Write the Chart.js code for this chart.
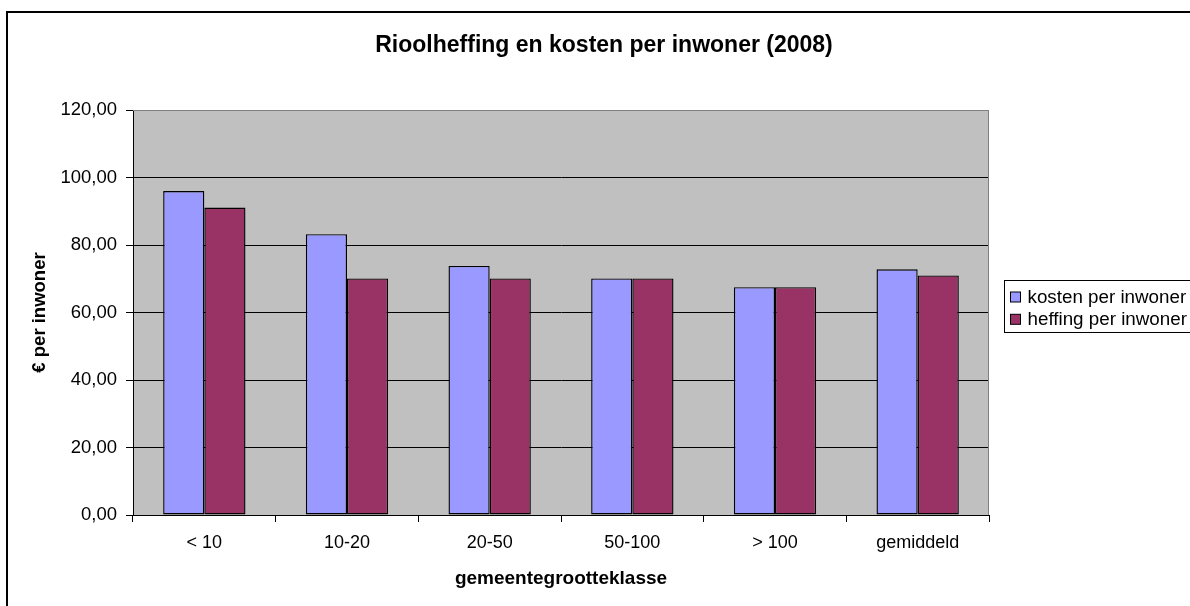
<!DOCTYPE html>
<html lang="nl">
<head>
  <meta charset="utf-8">
  <title>Rioolheffing en kosten per inwoner (2008)</title>
  <script src="https://cdn.jsdelivr.net/npm/chart.js@4.4.1/dist/chart.umd.min.js"></script>
  <style>
    body { margin: 0; background: #fff; overflow: hidden; }
    #wrap { width: 1190px; height: 606px; position: relative; }
  </style>
</head>
<body>
  <div id="wrap">
    <canvas id="rioolChart"></canvas>
  </div>

<script>
  // data
  var categories = ['< 10', '10-20', '20-50', '50-100', '> 100', 'gemiddeld'];
  var kosten = [96.0, 83.2, 73.8, 70.1, 67.5, 72.8];
  var heffing = [91.1, 70.1, 70.1, 70.1, 67.5, 71.0];
  var seriesLabels = ['kosten per inwoner', 'heffing per inwoner'];
  var chartTitle = 'Rioolheffing en kosten per inwoner (2008)';
  var yTitle = '€ per inwoner';
  var xTitle = 'gemeentegrootteklasse';

  var fontName = 'Arial, "Liberation Sans", Helvetica, sans-serif';
  Chart.defaults.font.family = fontName;
  Chart.defaults.color = '#000';

  // excel look: grey plot area, outer frame, title and boxed legend
  var excelLook = {
    id: 'excelLook',
    beforeDraw: function(chart) {
      var ctx = chart.ctx, a = chart.chartArea;
      ctx.save();
      ctx.fillStyle = '#fff';
      ctx.fillRect(0, 0, chart.width, chart.height);
      // outer frame (runs off the right and bottom edge)
      ctx.strokeStyle = '#000';
      ctx.lineWidth = 2;
      ctx.strokeRect(7, 12, chart.width + 40, chart.height + 40);
      // plot background
      ctx.fillStyle = '#c0c0c0';
      ctx.fillRect(a.left, a.top, a.right - a.left, a.bottom - a.top);
      ctx.restore();
    },
    beforeDatasetsDraw: function(chart) {
      var ctx = chart.ctx, a = chart.chartArea;
      ctx.save();
      ctx.strokeStyle = '#808080';
      ctx.lineWidth = 1;
      ctx.beginPath();
      ctx.moveTo(a.left, a.top + 0.5);
      ctx.lineTo(a.right - 0.5, a.top + 0.5);
      ctx.lineTo(a.right - 0.5, a.bottom);
      ctx.stroke();
      ctx.restore();
    },
    afterDraw: function(chart) {
      var ctx = chart.ctx, a = chart.chartArea;
      ctx.save();
      // title
      ctx.fillStyle = '#000';
      ctx.font = 'bold 23px ' + fontName;
      ctx.textAlign = 'center';
      ctx.textBaseline = 'middle';
      ctx.fillText(chartTitle, 604, 46);

      // legend box
      var lx = a.right + 15.5, ly = 280.5;
      ctx.strokeStyle = '#000';
      ctx.lineWidth = 1;
      ctx.strokeRect(lx, ly, 260, 52);
      ctx.font = '18.8px ' + fontName;
      ctx.textAlign = 'left';
      chart.data.datasets.forEach(function(ds, i) {
        var cy = 297 + i * 22.3;
        ctx.fillStyle = ds.backgroundColor;
        ctx.fillRect(lx + 6, cy - 5, 10, 10);
        ctx.strokeRect(lx + 6, cy - 5, 10, 10);
        ctx.fillStyle = '#000';
        ctx.fillText(ds.label, lx + 23, cy + 1);
      });
      ctx.restore();
    }
  };

  var ctx = document.getElementById('rioolChart');
  var rioolChart = new Chart(ctx, {
    type: 'bar',
    data: {
      labels: categories,
      datasets: [{
        label: seriesLabels[0],
        data: kosten,
        backgroundColor: '#9999ff',
        borderColor: '#000',
        borderWidth: 1.4,
        borderSkipped: false
      }, {
        label: seriesLabels[1],
        data: heffing,
        backgroundColor: '#993366',
        borderColor: '#000',
        borderWidth: 1.4,
        borderSkipped: false
      }]
    },
    options: {
      responsive: true,
      maintainAspectRatio: false,
      animation: false,
      layout: {
        padding: { top: 110, right: 201, left: 0, bottom: 0 }
      },
      plugins: {
        legend: { display: false },
        title: { display: false },
        tooltip: { enabled: false }
      },
      datasets: {
        bar: { categoryPercentage: 0.577, barPercentage: 1 }
      },
      scales: {
        x: {
          grid: {
            drawOnChartArea: false,
            tickLength: 7,
            color: '#000',
            offset: true
          },
          border: { color: '#000', width: 1 },
          ticks: {
            font: { size: 18 },
            padding: 10,
            maxRotation: 0
          },
          title: {
            display: true,
            text: xTitle,
            font: { size: 19, weight: 'bold' },
            padding: { top: 0, bottom: 16 }
          },
          afterFit: function(scale) { scale.height = 91; }
        },
        y: {
          min: 0,
          max: 120,
          grid: {
            color: function(c) { return c.tick && c.tick.value === 120 ? '#808080' : '#000'; },
            tickColor: '#000',
            tickLength: 7
          },
          border: { color: '#000', width: 1 },
          ticks: {
            stepSize: 20,
            font: { size: 18.5 },
            padding: 9,
            callback: function(v) { return v.toFixed(2).replace('.', ','); }
          },
          title: {
            display: true,
            text: yTitle,
            font: { size: 18.5, weight: 'bold' },
            padding: { top: 29, bottom: 0 }
          },
          afterFit: function(scale) { scale.width = 133; }
        }
      }
    },
    plugins: [excelLook]
  });
</script>
</body>
</html>
